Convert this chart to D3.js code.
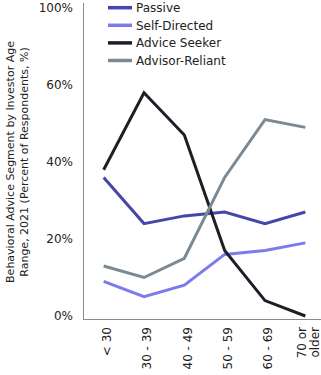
<!DOCTYPE html>
<html><head><meta charset="utf-8">
<script src="https://cdn.jsdelivr.net/npm/d3@7"></script>
<style>body{margin:0;background:#fff}svg{display:block}text{font-family:"DejaVu Sans",sans-serif}</style>
</head><body>
<svg id="c" width="321" height="375"></svg>
<script>
const categories = ["< 30", "30 - 39", "40 - 49", "50 - 59", "60 - 69", "70 or\nolder"];
const seriesNames = ["Passive", "Self-Directed", "Advice Seeker", "Advisor-Reliant"];
const passive = [36, 24, 26, 27, 24, 27];
const selfDirected = [9, 5, 8, 16, 17, 19];
const adviceSeeker = [38, 58, 47, 17, 4, 0];
const advisorReliant = [13, 10, 15, 36, 51, 49];
const tickValues = [0, 20, 40, 60, 80];
const tickLabels = ["0%", "20%", "40%", "60%", "100%"];
const colors = ["#4646a8", "#7b7bee", "#1b2026", "#7a8a94"];
const seriesValues = [passive, selfDirected, adviceSeeker, advisorReliant];

const svg = d3.select("#c");
const x = d3.scaleBand().domain(categories).range([83.5, 325.5]);
const y = d3.scaleLinear().domain([0, 80]).range([316, 8]);

// axes lines
svg.append("line").attr("x1",83.5).attr("x2",83.5).attr("y1",3).attr("y2",319.5).attr("stroke","#8a8a8a").attr("stroke-width",1);
svg.append("line").attr("x1",83).attr("x2",321).attr("y1",319.5).attr("y2",319.5).attr("stroke","#8a8a8a").attr("stroke-width",1);

// y tick labels
svg.append("g").selectAll("text").data(tickValues).join("text")
  .attr("x", 73).attr("y", d => y(d)).attr("dy","0.35em")
  .attr("text-anchor","end").attr("font-size",12).attr("fill","#222")
  .text((d,i) => tickLabels[i]);

// x labels rotated
const xl = svg.append("g").selectAll("g").data(categories).join("g")
  .attr("transform", d => `translate(${x(d)+x.bandwidth()/2+3},327) rotate(-90)`);
xl.each(function(d){
  const lines = d.split("\n");
  const g = d3.select(this);
  lines.forEach((l,i)=>{
    g.append("text").attr("x",0).attr("y",(i-(lines.length-1)/2)*13.5).attr("dy","0.35em")
     .attr("text-anchor","end").attr("font-size",12).attr("fill","#222").text(l);
  });
});

// y title
const yt = svg.append("text").attr("transform","translate(16,162) rotate(-90)")
  .attr("text-anchor","middle").attr("font-size",11).attr("fill","#222");
yt.append("tspan").attr("x",0).attr("dy","-0.2em").text("Behavioral Advice Segment by Investor Age");
yt.append("tspan").attr("x",0).attr("dy","1.3em").text("Range, 2021 (Percent of Respondents, %)");

// lines
const line = d3.line().x((d,i)=>x(categories[i])+x.bandwidth()/2).y(d=>y(d));
seriesValues.forEach((vals,k)=>{
  svg.append("path").datum(vals).attr("d",line).attr("fill","none")
    .attr("stroke",colors[k]).attr("stroke-width",3).attr("stroke-linejoin","miter");
});

// legend
const lg = svg.append("g").selectAll("g").data(seriesNames).join("g")
  .attr("transform",(d,i)=>`translate(108,${7.7+i*17.6})`);
lg.append("line").attr("x1",0).attr("x2",24).attr("stroke",(d,i)=>colors[i]).attr("stroke-width",3.5);
lg.append("text").attr("x",28).attr("dy","0.35em").attr("font-size",12).attr("fill","#222").text(d=>d);
</script>
</body></html>
